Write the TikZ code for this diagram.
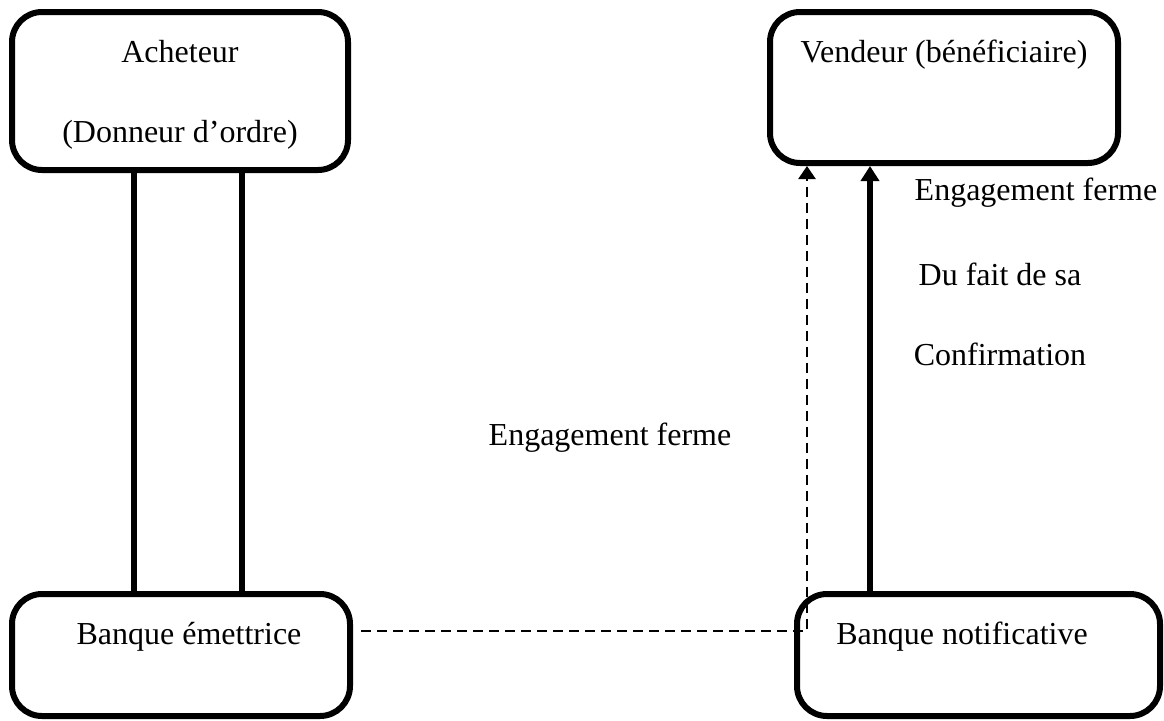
\documentclass[tikz,border=0pt]{standalone}
\usepackage{fontspec}
\setmainfont{Liberation Serif}
\usetikzlibrary{arrows.meta}
\begin{document}
\begin{tikzpicture}[x=1pt,y=-1pt,
  party/.style={draw,line width=6pt,rounded corners=30pt,inner sep=0pt},
  lbl/.style={inner sep=0pt,anchor=base,font=\fontsize{32}{38}\selectfont},
  link/.style={line width=6pt},
  firm/.style={line width=6pt,-{Triangle[length=15pt,width=18pt]}},
  weak/.style={line width=2.5pt,dash pattern=on 10pt off 6pt,-{Triangle[length=13pt,width=17pt]}}]
\useasboundingbox (0,0) rectangle (1164,720);
% parties
\node[party,minimum width=336pt,minimum height=158pt] (ach) at (180,91) {};
\node[party,minimum width=348pt,minimum height=151pt] (ven) at (944,87.5) {};
\node[party,minimum width=338pt,minimum height=122pt] (bem) at (181,655) {};
\node[party,minimum width=363pt,minimum height=122pt] (bno) at (978.5,655) {};
% texts
\node[lbl] (t1) at (180,62) {Acheteur};
\node[lbl] (t2) at (180,142) {(Donneur d’ordre)};
\node[lbl] (t3) at (944,62) {Vendeur (bénéficiaire)};
\node[lbl] (t4) at (189,644) {Banque émettrice};
\node[lbl] (t5) at (962,644) {Banque notificative};
\node[lbl] (t6) at (1036,200) {Engagement ferme};
\node[lbl] (t7) at (1000,285) {Du fait de sa};
\node[lbl] (t8) at (1000,365) {Confirmation};
\node[lbl] (t9) at (610,445) {Engagement ferme};
% buyer to issuing bank
\draw[link] ([xshift=-46pt]ach.south) -- ([xshift=-46pt]ach.south |- bem.north);
\draw[link] ([xshift=62pt]ach.south) -- ([xshift=62pt]ach.south |- bem.north);
% notifying bank to seller
\draw[firm] ([xshift=-108.5pt]bno.north) -- ([xshift=-108.5pt]bno.north |- ven.south);
% issuing bank to seller
\draw[weak] ([xshift=8pt,yshift=24pt]bem.east) -| ([xshift=-137pt]ven.south);
\end{tikzpicture}
\end{document}
